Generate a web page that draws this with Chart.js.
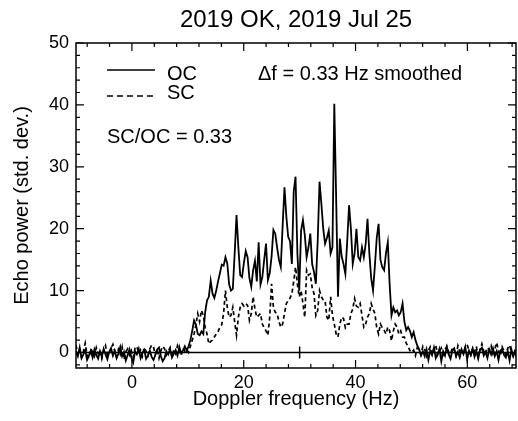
<!DOCTYPE html>
<html>
<head>
<meta charset="utf-8">
<script src="https://cdn.jsdelivr.net/npm/chart.js@4.4.0/dist/chart.umd.min.js"></script>
<style>
  body { margin: 0; background: #fff; }
  canvas { display: block; }
</style>
</head>
<body>
<canvas id="echoChart" width="518" height="421"></canvas>
<script>
// Doppler grid: start frequency and resolution (Hz)
const f0 = -10;
const df = 0.33;

// OC echo power (std. dev.), one value per 0.33 Hz bin
const ocPower = [
  0.2,-0.6,0.8,-0.9,-0.3,0.4,-1.2,-0.5,0.3,-0.8,
  0.5,-0.4,-1.0,0.2,-0.7,0.6,-0.3,-1.1,0.1,0.7,
  -0.5,0.3,-0.9,-0.2,0.9,-0.6,0.1,-1.3,-0.4,0.5,
  -0.8,-1.6,0.2,-0.3,0.6,-0.9,-0.1,0.4,-1.0,-0.5,
  0.3,-0.7,-1.2,-0.4,0.5,0.8,-0.6,-1.4,-0.9,0.2,
  -0.3,0.6,-0.8,-0.2,0.4,-0.5,0.9,-0.1,0.3,1.0,
  0.3,1.0,2.0,3.5,5.2,4.5,3.0,2.8,3.4,3.0,
  6.5,8.4,9.0,11.6,9.5,8.8,10.0,11.5,12.8,14.2,
  14.0,15.4,14.4,11.0,10.0,10.3,16.0,22.2,17.0,12.5,
  12.2,14.5,16.4,15.4,12.0,10.6,13.3,14.8,11.5,17.8,
  11.0,12.2,15.0,17.6,11.7,12.8,15.5,19.8,19.2,17.0,
  15.0,13.8,20.5,26.7,22.0,18.7,18.0,14.3,26.0,28.4,
  16.0,10.0,19.7,21.4,19.0,15.4,17.0,19.2,14.3,13.0,
  11.1,18.0,27.6,24.0,20.0,17.6,18.5,19.7,16.0,17.0,
  40.2,25.0,9.0,18.4,15.5,14.3,12.7,18.0,23.8,20.0,
  14.3,16.0,20.0,15.4,14.9,17.0,15.4,17.5,21.6,16.0,
  12.0,10.0,14.0,18.5,20.8,15.0,13.8,13.3,16.0,17.8,
  11.0,6.0,7.3,6.5,6.8,6.0,6.5,7.9,5.0,3.6,
  4.1,3.5,2.5,3.3,2.0,1.1,0.5,-0.5,0.2,
  -0.6,0.5,-1.2,0.3,-0.4,0.8,-0.9,-0.2,0.6,-1.4,
  0.2,-0.5,0.9,-0.3,-1.0,0.4,0.7,-0.6,0.1,-0.8,
  0.5,-0.2,0.9,-1.1,0.3,-0.4,0.6,-0.7,0.2,-1.0,
  0.4,0.8,-0.5,0.1,-0.9,0.5,-0.3,0.7,-0.6,0.2,
  -1.2,0.3,0.6,-0.4,-0.8,0.2,-1.3,0.5,-0.6,0.1,-0.9
];

// SC echo power (std. dev.)
const scPower = [
  1.2,-0.3,0.5,-0.8,0.2,1.5,-0.4,-0.9,0.6,0.1,
  -0.6,0.8,-0.2,0.4,-1.0,0.3,1.1,-0.5,-0.1,0.7,
  1.3,0.2,-0.7,0.5,-0.3,0.9,-1.1,0.1,0.6,-0.4,
  0.3,-0.8,0.7,1.0,-0.2,0.4,-0.6,0.8,0.2,-0.5,
  0.6,1.2,0.9,-0.3,0.5,-0.9,0.3,1.0,0.6,-0.4,
  0.2,0.8,-0.6,0.4,-0.2,1.1,0.3,-0.5,0.7,0.2,
  0.5,0.0,1.0,2.0,3.0,4.5,6.3,5.0,6.8,6.0,
  4.1,3.0,1.4,1.8,2.0,2.5,3.0,3.4,4.1,4.5,
  6.3,10.0,7.3,5.7,6.0,7.3,5.0,2.8,5.7,7.3,
  7.9,7.5,7.9,7.6,5.2,6.3,9.0,7.0,5.7,6.0,
  6.3,4.6,4.0,3.5,2.8,5.7,11.1,7.3,6.5,6.3,
  5.0,4.1,4.6,6.3,7.9,8.4,8.8,9.5,11.5,13.8,
  11.0,9.0,10.0,7.9,5.7,13.3,12.5,12.7,10.5,9.5,
  6.0,6.8,10.0,9.0,8.5,8.4,5.7,5.2,9.0,6.0,
  4.6,3.0,2.5,4.6,5.7,5.5,4.0,4.6,4.6,6.3,
  7.0,8.7,7.5,7.3,7.9,6.0,4.1,4.6,5.7,6.3,
  7.9,7.0,6.3,4.0,3.0,4.6,4.0,3.6,3.0,4.1,
  3.5,1.9,3.5,4.6,4.1,3.0,3.5,2.5,2.5,1.5,
  1.0,0.3,0.0,
  0.4,-0.5,0.8,0.2,-0.3,1.0,0.5,-0.6,0.3,0.9,
  -0.2,0.6,1.2,-0.4,0.2,0.7,-0.8,0.5,1.0,0.1,
  -0.3,0.8,0.4,-0.5,1.1,0.2,0.6,-0.2,0.9,1.3,
  0.3,-0.4,0.7,0.1,1.0,-0.6,0.5,1.4,0.2,-0.3,
  0.8,0.4,1.1,-0.2,0.6,1.6,0.3,-0.5,0.9,0.2,
  -0.4,0.7,1.2,0.1,-0.6,0.4,0.3
];

const xTicks = [0, 20, 40, 60];
const yTicks = [0, 10, 20, 30, 40, 50];
const xRange = [-10, 68.7];
const yRange = [-2.5, 50];
const centerFreq = 30;   // marker on the zero line
const scOcRatio = 0.33;

const freq = ocPower.map((_, i) => +(f0 + i * df).toFixed(2));
const FONT = "'Liberation Sans', Arial, Helvetica, sans-serif";

// box, inward ticks, zero-line marker, legend and notes
const framePlugin = {
  id: 'frame',
  afterDatasetsDraw(chart) {
    const { ctx, chartArea: a, scales: { x, y } } = chart;
    ctx.save();
    ctx.strokeStyle = '#000';
    ctx.lineWidth = 1.5;
    ctx.strokeRect(a.left, a.top, a.right - a.left, a.bottom - a.top);

    ctx.lineWidth = 1.2;
    ctx.beginPath();
    for (let v = -8; v <= xRange[1]; v += 4) {
      const px = x.getPixelForValue(v);
      const len = v % 20 === 0 ? 8 : 4;
      ctx.moveTo(px, a.bottom); ctx.lineTo(px, a.bottom - len);
      ctx.moveTo(px, a.top); ctx.lineTo(px, a.top + len);
    }
    for (let v = -2; v <= yRange[1]; v += 2) {
      const py = y.getPixelForValue(v);
      const len = v % 10 === 0 ? 8 : 4;
      ctx.moveTo(a.left, py); ctx.lineTo(a.left + len, py);
      ctx.moveTo(a.right, py); ctx.lineTo(a.right - len, py);
    }
    ctx.stroke();

    // center frequency marker
    const cx = x.getPixelForValue(centerFreq);
    const cy = y.getPixelForValue(0);
    ctx.lineWidth = 1.5;
    ctx.beginPath();
    ctx.moveTo(cx, cy - 6); ctx.lineTo(cx, cy + 6);
    ctx.stroke();

    // legend
    ctx.fillStyle = '#000';
    ctx.font = '20px ' + FONT;
    ctx.textBaseline = 'middle';
    ctx.lineWidth = 1.6;
    ctx.beginPath();
    ctx.moveTo(107, 70); ctx.lineTo(155, 70);
    ctx.stroke();
    ctx.setLineDash([6, 4]);
    ctx.beginPath();
    ctx.moveTo(107, 96); ctx.lineTo(155, 96);
    ctx.stroke();
    ctx.setLineDash([]);
    ctx.fillText('OC', 167, 74);
    ctx.fillText('SC', 167, 93);
    ctx.fillText('\u0394f = 0.33 Hz smoothed', 258, 74);
    ctx.fillText('SC/OC = ' + scOcRatio.toFixed(2), 107, 137);
    ctx.restore();
  }
};

new Chart(document.getElementById('echoChart'), {
  type: 'line',
  data: {
    datasets: [
      {
        label: 'OC',
        data: freq.map((f, i) => ({ x: f, y: ocPower[i] })),
        borderColor: '#000',
        borderWidth: 1.8,
        pointRadius: 0,
        tension: 0
      },
      {
        label: 'SC',
        data: freq.map((f, i) => ({ x: f, y: scPower[i] })),
        borderColor: '#000',
        borderWidth: 1.7,
        borderDash: [4, 3],
        pointRadius: 0,
        tension: 0
      },
      {
        label: 'zero',
        data: xRange.map(v => ({ x: v, y: 0 })),
        borderColor: '#000',
        borderWidth: 1.5,
        pointRadius: 0
      }
    ]
  },
  options: {
    responsive: false,
    animation: false,
    layout: { padding: { left: 0, right: 2, top: 0, bottom: 0 } },
    plugins: {
      legend: { display: false },
      tooltip: { enabled: false },
      title: {
        display: true,
        fullSize: false,
        text: '2019 OK, 2019 Jul 25',
        color: '#000',
        font: { family: FONT, size: 24, weight: 'normal', lineHeight: 1.0 },
        padding: { top: 8, bottom: 11 }
      }
    },
    scales: {
      x: {
        type: 'linear',
        min: xRange[0],
        max: xRange[1],
        afterBuildTicks: s => { s.ticks = xTicks.map(v => ({ value: v })); },
        afterFit: s => { s.height = 53; },
        grid: { display: false, drawTicks: false },
        border: { display: false },
        ticks: { color: '#000', font: { family: FONT, size: 18 }, padding: 4, maxRotation: 0 },
        title: {
          display: true,
          text: 'Doppler frequency (Hz)',
          color: '#000',
          font: { family: FONT, size: 20 },
          padding: { top: 0, bottom: 10 }
        }
      },
      y: {
        type: 'linear',
        min: yRange[0],
        max: yRange[1],
        afterBuildTicks: s => { s.ticks = yTicks.map(v => ({ value: v })); },
        afterFit: s => { s.width = 76; },
        grid: { display: false, drawTicks: false },
        border: { display: false },
        ticks: { color: '#000', font: { family: FONT, size: 18 }, padding: 7 },
        title: {
          display: true,
          text: 'Echo power (std. dev.)',
          color: '#000',
          font: { family: FONT, size: 20 },
          padding: { top: 10, bottom: 0 }
        }
      }
    }
  },
  plugins: [framePlugin]
});
</script>
</body>
</html>
